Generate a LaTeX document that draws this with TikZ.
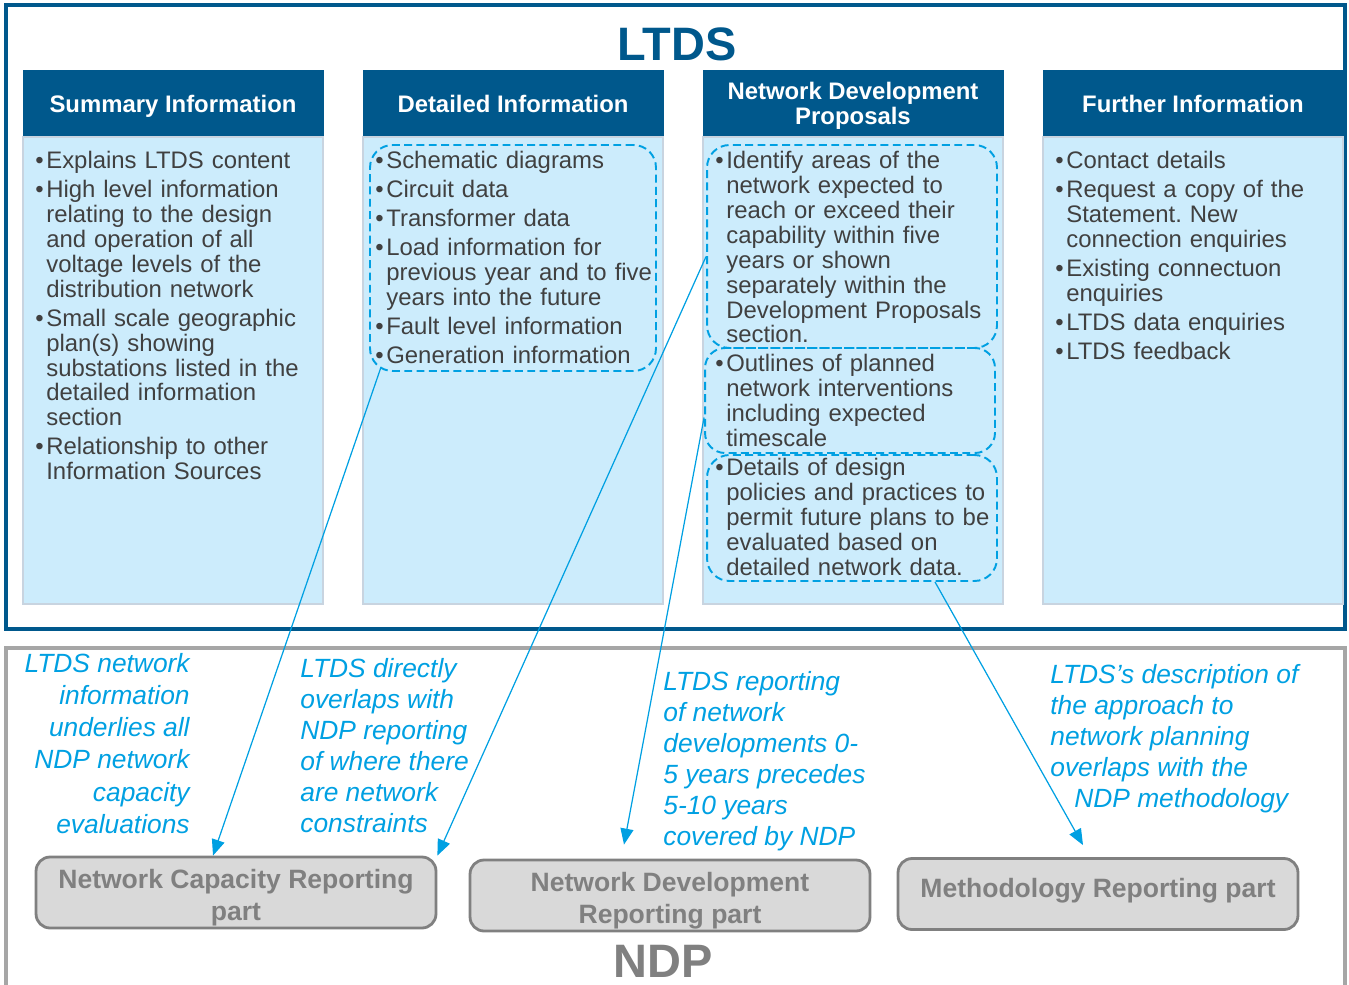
\documentclass[tikz,border=0pt]{standalone}
\usepackage{fontspec}
\setmainfont{Liberation Sans}
\usetikzlibrary{arrows.meta,positioning}
\definecolor{ltdsblue}{RGB}{0,88,140}
\definecolor{paleblue}{RGB}{204,236,252}
\definecolor{paleedge}{RGB}{200,212,224}
\definecolor{textgray}{RGB}{64,64,64}
\definecolor{linkcyan}{RGB}{0,160,226}
\definecolor{ndpgray}{RGB}{128,128,128}
\definecolor{framegray}{RGB}{166,166,166}
\definecolor{boxgray}{RGB}{217,217,217}
\frenchspacing
\newcommand{\itm}{\par\parskip=2.3pt\hangindent=0.22cm\hangafter=1\noindent\makebox[0.22cm][l]{•}}

\begin{document}
\begin{tikzpicture}[x=0.02cm,y=-0.02cm,
  headbox/.style={fill=ltdsblue,draw=ltdsblue,minimum width=6cm,minimum height=1.34cm,text depth=0pt,
    text=white,align=center,font=\bfseries\fontsize{13.6}{14.2}\selectfont},
  panelbox/.style={fill=paleblue,draw=paleedge,line width=1pt,minimum width=6cm,minimum height=9.34cm},
  bullets/.style={anchor=north west,inner sep=0pt,text width=5.9cm,align=left,text=textgray,
    font=\fontsize{13.6}{14.2}\selectfont},
  dashgroup/.style={draw=linkcyan,dash pattern=on 4.5pt off 2.5pt,line width=1.1pt,rounded corners=0.45cm},
  partbox/.style={fill=boxgray,draw=ndpgray,line width=1.6pt,rounded corners=0.28cm,inner ysep=0pt,
    minimum width=8cm,minimum height=1.42cm,text=ndpgray,align=center,
    font=\bfseries\fontsize{15.1}{18.1}\selectfont},
  notetext/.style={inner sep=0pt,text=linkcyan,font=\itshape\fontsize{15}{17.6}\selectfont},
  link/.style={draw=linkcyan,line width=0.7pt,-{Triangle[length=0.32cm,width=0.26cm]}}]
  \useasboundingbox (0,0) rectangle (1349,984);
  % LTDS
  \draw[ltdsblue,line width=0.08cm](6,5)rectangle(1345,629);
  \node[text=ltdsblue,font=\bfseries\fontsize{26.7}{30}\selectfont](ltds)at(677,44){LTDS};
  \node[headbox](sumhd)at(173,103.5){Summary Information};
  \node[headbox](dethd)at(513,103.5){Detailed Information};
  \node[headbox](ndphd)at(853,103.5){Network Development\\Proposals};
  \node[headbox](furhd)at(1193,103.5){Further Information};
  \node[panelbox](sumpn)at(173,370.5){};
  \node[panelbox](detpn)at(513,370.5){};
  \node[panelbox](ndppn)at(853,370.5){};
  \node[panelbox](furpn)at(1193,370.5){};
  \node[dashgroup,minimum width=5.72cm,minimum height=4.52cm](dgrp)at(513,258){};
  \node[dashgroup,minimum width=5.8cm,minimum height=4.06cm](dnd1)at(852,246.5){};
  \node[dashgroup,minimum width=5.8cm,minimum height=2.1cm,rounded corners=0.4cm](dnd2)at(850,400.5){};
  \node[dashgroup,minimum width=5.8cm,minimum height=2.52cm](dnd3)at(852,518){};
  \node[bullets](sumtxt)at(35,139){\itm Explains LTDS content
    \itm High level information\newline relating to the design\newline and operation of all\newline voltage levels of the\newline distribution network
    \itm Small scale geographic\newline plan(s) showing\newline substations listed in the\newline detailed information\newline section
    \itm Relationship to other\newline Information Sources\par};
  \node[bullets](dettxt)at(375,139){\itm Schematic diagrams
    \itm Circuit data
    \itm Transformer data
    \itm Load information for\newline previous year and to five\newline years into the future
    \itm Fault level information
    \itm Generation information\par};
  \node[bullets](ndptxt)at(715,139){\itm Identify areas of the\newline network expected to\newline reach or exceed their\newline capability within five\newline years or shown\newline separately within the\newline Development Proposals\newline section.
    \itm Outlines of planned\newline network interventions\newline including expected\newline timescale
    \itm Details of design\newline policies and practices to\newline permit future plans to be\newline evaluated based on\newline detailed network data.\par};
  \node[bullets](furtxt)at(1055,139){\itm Contact details
    \itm Request a copy of the\newline Statement. New\newline connection enquiries
    \itm Existing connectuon\newline enquiries
    \itm LTDS data enquiries
    \itm LTDS feedback\par};
  % NDP
  \draw[framegray,line width=0.07cm](6,990)--(6,648)--(1345,648)--(1345,990);
  \node[text=ndpgray,font=\bfseries\fontsize{26.7}{30}\selectfont](ndp)at(663,961){NDP};
  \node[partbox](capbox)at(236,892.5){\rule{0pt}{16.7pt}Network Capacity Reporting\\part};
  \node[partbox](devbox)at(670,895.5){\rule{0pt}{16.7pt}Network Development\\Reporting part};
  \node[partbox](methbox)at(1098,894){\rule[-6.5pt]{0pt}{6.5pt}Methodology Reporting part};
  \node[notetext,anchor=north east,align=right,font=\itshape\fontsize{15}{18.3}\selectfont](capnote)at(190,653)
    {LTDS network\\information\\underlies all\\NDP network\\capacity\\evaluations};
  \node[notetext,anchor=north west,align=left](detnote)at(300,658)
    {LTDS directly\\overlaps with\\NDP reporting\\of where there\\are network\\constraints};
  \node[notetext,anchor=north west,align=left](devnote)at(663,671)
    {LTDS reporting\\of network\\developments 0-\\5 years precedes\\5-10 years\\covered by NDP};
  \node[notetext,anchor=north west,align=left](methnote)at(1050,664)
    {LTDS’s description of\\the approach to\\network planning\\overlaps with the\\\hspace*{0.48cm}NDP methodology};
  % links
  \draw[link]([shift={(12,-5)}]dgrp.south west)--([shift={(-23,0)}]capbox.north);
  \draw[link]([shift={(0,10)}]dnd1.west)--(capbox.north east);
  \draw[link]([shift={(0,17)}]dnd2.west)--([shift={(-46,-14)}]devbox.north);
  \draw[link]([shift={(83,0)}]dnd3.south)--([shift={(-15,-12)}]methbox.north);
\end{tikzpicture}
\end{document}
